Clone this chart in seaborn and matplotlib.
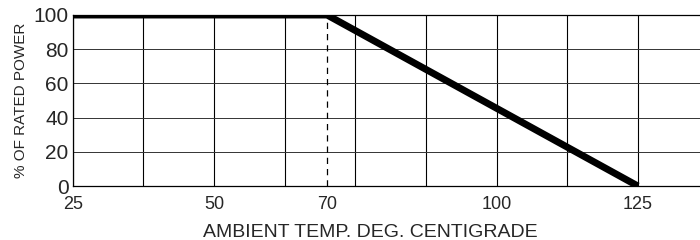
import matplotlib as mpl
import matplotlib.pyplot as plt
from matplotlib.ticker import MultipleLocator
import seaborn as sns
import pandas as pd

# derating curve
temp = [25, 70, 125]
power = [100, 100, 0]

x_ticks = [25, 50, 70, 100, 125]
y_ticks = [0, 20, 40, 60, 80, 100]
knee_temp = 70

sns.set_style('white')
plt.rcParams['font.family'] = ['Liberation Sans', 'DejaVu Sans']

df = pd.DataFrame({'temp': temp, 'power': power})

fig = plt.figure(figsize=(7, 2.4), dpi=100)
ax = fig.add_axes([0.104, 0.225, 0.896, 0.7125])

# grid
ax.xaxis.set_minor_locator(MultipleLocator(12.5))
ax.xaxis.remove_overlapping_locs = False
ax.grid(which='minor', axis='x', color='black', linewidth=0.8)
ax.grid(which='major', axis='y', color='#333333', linewidth=0.7)
ax.grid(which='major', axis='x', visible=False)

# dashed line at the knee
ax.plot([knee_temp, knee_temp], [0, 100], color='black', linestyle=(0, (5, 4)),
        linewidth=0.9, zorder=2)

sns.lineplot(data=df, x='temp', y='power', color='black', linewidth=5,
             solid_capstyle='butt', ax=ax, zorder=3)

ax.set_xlim(25, 136)
ax.set_ylim(0, 100)
ax.set_xticks(x_ticks)
ax.set_yticks(y_ticks)
ax.tick_params(axis='both', which='both', length=0)
ax.tick_params(axis='y', labelsize=15, pad=3)
ax.tick_params(axis='x', labelsize=13, pad=7)

for s in ['left', 'top', 'bottom']:
    ax.spines[s].set_color('black')
    ax.spines[s].set_linewidth(0.9)
ax.spines['right'].set_visible(False)

ax.set_xlabel('AMBIENT TEMP. DEG. CENTIGRADE', fontsize=14, labelpad=8)
ax.xaxis.label.set_x(0.474)
ax.set_ylabel('% OF RATED POWER', fontsize=11, labelpad=4)

fig.savefig('out.png', dpi=100)
